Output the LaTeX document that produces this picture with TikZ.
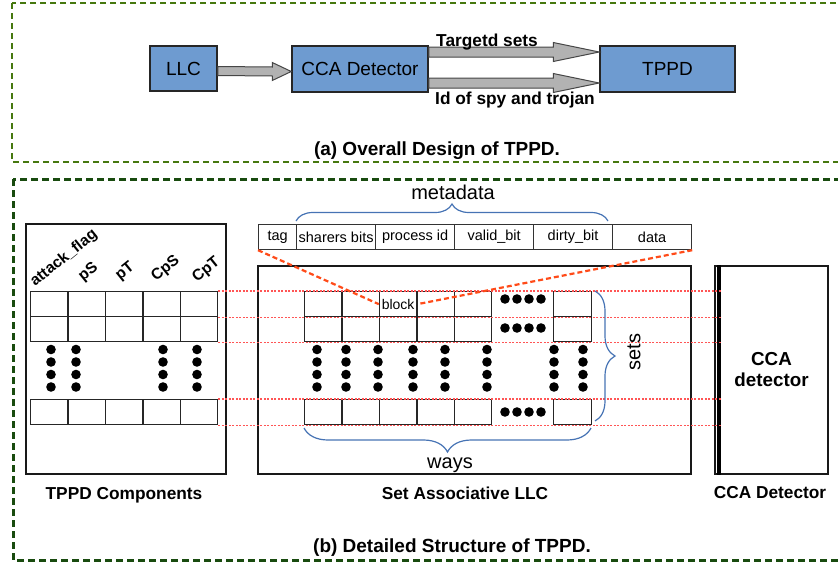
\documentclass[tikz,border=0pt]{standalone}
\usepackage{fontspec}
\setmainfont{Liberation Sans}
\usetikzlibrary{calc,decorations.pathreplacing}
\definecolor{boxblue}{RGB}{110,155,208}
\definecolor{framea}{RGB}{70,120,15}
\definecolor{frameb}{RGB}{25,75,15}
\definecolor{bracec}{RGB}{70,115,180}
\definecolor{reddash}{RGB}{255,75,25}
\definecolor{reddot}{RGB}{255,85,85}
\definecolor{agray}{RGB}{178,178,178}
\definecolor{adark}{RGB}{70,70,70}
\newcommand\blockarr[5]{%
  \draw[blockarrow] ($(#1)+(0,#3)$) -- ($(#2)+(-#5,#3)$) -- ($(#2)+(-#5,#4)$) -- (#2)
   -- ($(#2)+(-#5,-#4)$) -- ($(#2)+(-#5,-#3)$) -- ($(#1)+(0,-#3)$) -- cycle;}
\begin{document}
\begin{tikzpicture}[x=1pt,y=-1pt,
  topbox/.style={draw=black!85, line width=1.5, fill=boxblue, inner sep=0,
     font=\fontsize{19}{22}\selectfont},
  blockarrow/.style={draw=adark, line width=1, fill=agray},
  lbl/.style={font=\fontsize{17.3}{20}\selectfont\bfseries, inner sep=0},
  captxt/.style={font=\fontsize{19}{22}\selectfont\bfseries, inner sep=0, anchor=base},
  bigbox/.style={draw=black!90, line width=2, inner sep=0},
  cell/.style={draw=black!85, line width=1.3, inner sep=0, anchor=north west,
     minimum height=25},
  mdcell/.style={draw=black!80, line width=1.2, inner sep=0, anchor=north west,
     minimum height=25, font=\fontsize{14.5}{17}\selectfont},
  collbl/.style={font=\fontsize{15.5}{18}\selectfont\bfseries, inner sep=0,
     rotate=39, anchor=base west},
  reddashed/.style={draw=reddash, line width=2.2, dash pattern=on 5 off 3},
  reddotted/.style={draw=reddot, line width=1.5, dash pattern=on 2 off 1.5},
  bracestyle/.style={draw=bracec, line width=1.2, decorate},
  bigtxt/.style={font=\fontsize{20}{24}\selectfont, inner sep=0},
  dot/.style={fill=black}
]
\useasboundingbox (0,0) rectangle (838,565);
\clip (0,0) rectangle (838,565);

% ---------- frames ----------
\draw[framea, line width=2, dash pattern=on 6 off 4] (12,3) rectangle (860,162);
\draw[frameb, line width=3, dash pattern=on 7 off 4] (13,179) rectangle (860,560);

% ---------- (a) overall design ----------
\node[topbox, minimum width=67, minimum height=45] (llc) at (183.5,68.5) {LLC};
\node[topbox, minimum width=136, minimum height=46] (cca) at (360,69) {CCA Detector};
\node[topbox, minimum width=135, minimum height=46] (tppd) at (667.5,69) {TPPD};

\coordinate (a1s) at ($(llc.east)+(0,2.5)$);
\coordinate (a1e) at ($(cca.west)+(0,2.5)$);
\blockarr{a1s}{a1e}{4.5}{9}{19}
\coordinate (a2s) at ($(cca.east)+(0,-17)$);
\coordinate (a2e) at ($(tppd.west)+(0,-17)$);
\blockarr{a2s}{a2e}{5}{9.5}{46}
\coordinate (a3s) at ($(cca.east)+(0,14)$);
\coordinate (a3e) at ($(tppd.west)+(0,14)$);
\blockarr{a3s}{a3e}{5}{9.5}{46}

\node[lbl, anchor=base] (tsets) at (487,46) {Targetd sets};
\node[lbl, anchor=base] (idspy) at (515,104) {Id of spy and trojan};
\node[captxt] (capa) at (437,155) {(a) Overall Design of TPPD.};

% ---------- (b) detailed structure ----------
\node[bigbox, minimum width=200, minimum height=250] (tcomp) at (126,349) {};
\node[bigbox, minimum width=433, minimum height=208] (llcb) at (474.5,370) {};
\node[bigbox, minimum width=113, minimum height=208, align=center,
      font=\fontsize{18.8}{21}\selectfont\bfseries] (ccab) at (771.5,370) {CCA\\detector};
\draw[black, line width=3.5] ($(ccab.north west)+(5,0)$) -- ($(ccab.south west)+(5,0)$);

% left table
\foreach \r/\y in {1/291,2/316,3/399}{
  \foreach \c in {0,...,4}{
    \node[cell, minimum width=37.4] (t\r\c) at ({30+37.4*\c},\y) {};
  }
}
% column labels
\node[collbl] (lf) at (35,287) {attack\_flag};
\node[collbl] (lps) at (83,282) {pS};
\node[collbl] (lpt) at (120,281) {pT};
\node[collbl] (lcps) at (156,282) {CpS};
\node[collbl] (lcpt) at (197,283) {CpT};

% LLC grid
\foreach \r/\y in {1/291,2/316,3/399}{
  \foreach \c in {0,...,4}{
    \node[cell, minimum width=37.4] (l\r\c) at ({304+37.4*\c},\y) {};
  }
  \node[cell, minimum width=38] (l\r5) at (553,\y) {};
}
\node[font=\fontsize{14}{16}\selectfont, inner sep=0] (blk) at (l12.center) {block};

% metadata row
\node[mdcell, minimum width=38] (md1) at (258,224) {tag};
\node[mdcell, minimum width=79] (md2) at (296,224) {sharers bits};
\node[mdcell, minimum width=79] (md3) at (375,224) {process id};
\node[mdcell, minimum width=79] (md4) at (454,224) {valid\_bit};
\node[mdcell, minimum width=79] (md5) at (533,224) {dirty\_bit};
\node[mdcell, minimum width=79] (md6) at (612,224) {data};

% dots
\foreach \x in {51,76,163,197,317,346,378,413,445,487,554,583}{
  \foreach \y in {349.5,362,374.5,387}{
    \fill[dot] (\x,\y) circle (4.8);
  }
}
\foreach \y in {299,328,412}{
  \foreach \x in {505,517,529,541}{
    \fill[dot] (\x,\y) circle (4.8);
  }
}

% red dotted guide lines
\foreach \a in {t14.north east,t14.south east,t24.south east,t34.north east,t34.south east}{
  \draw[reddotted] (\a) -- ($(\a -| ccab.west)+(7,0)$);
}
% red dashed zoom lines
\draw[reddashed] (md1.south west) -- (l12.west);
\draw[reddashed] (md6.south east) -- (l12.east);

% braces
\draw[bracestyle, decoration={brace, amplitude=17}] (296,221) -- (608,221);
\node[bigtxt, anchor=base] (meta) at (453,199) {metadata};
\draw[bracestyle, decoration={brace, amplitude=24}] (591,428) -- (304,428);
\node[bigtxt, anchor=base] (ways) at (450,468) {ways};
\draw[bracestyle, decoration={brace, amplitude=20}] (595,291) -- (595,421);
\node[bigtxt, rotate=90] (sets) at (634,352) {sets};

% bottom labels
\node[lbl, anchor=base] (ltc) at (124,499) {TPPD Components};
\node[lbl, anchor=base] (lsa) at (465,499) {Set Associative LLC};
\node[lbl, anchor=base] (lcd) at (770,498) {CCA Detector};
\node[captxt] (capb) at (452,552) {(b) Detailed Structure of TPPD.};
\end{tikzpicture}
\end{document}
